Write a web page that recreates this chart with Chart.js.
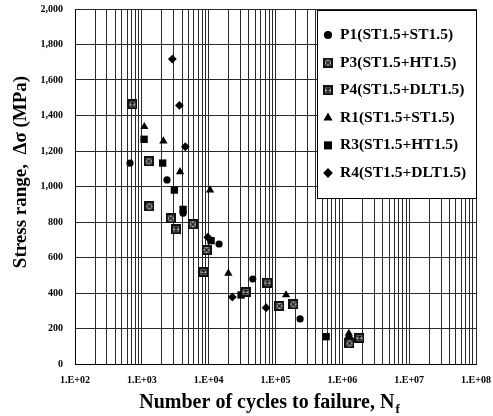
<!DOCTYPE html>
<html>
<head>
<meta charset="utf-8">
<script src="https://cdn.jsdelivr.net/npm/chart.js@4.4.1/dist/chart.umd.min.js"></script>
<style>
  body { margin: 0; background: #fff; }
  #wrap { width: 493px; height: 416px; }
</style>
</head>
<body>
<div id="wrap"><canvas id="chart" width="493" height="416"></canvas></div>
<script>
// cycles to failure / stress range (MPa)
const p1Cycles = [665, 2380, 4150, 14300, 45700, 233500];
const p1Stress = [1132, 1037, 850, 676, 479, 254];

const p3Cycles = [1268, 1295, 2710, 5780, 9300, 114300, 185300, 1280000];
const p3Stress = [1142, 888, 820, 787, 642, 327, 336, 116];

const p4Cycles = [721, 3250, 8330, 35650, 75600, 1800000];
const p4Stress = [1463, 759, 518, 406, 458, 147];

const r1Cycles = [1090, 2100, 3730, 10500, 19700, 144000, 1250000];
const r1Stress = [1337, 1256, 1083, 980, 511, 389, 172];

const r3Cycles = [1080, 2050, 3070, 4140, 10860, 30550, 572000];
const r3Stress = [1266, 1132, 980, 871, 695, 389, 154];

const r4Cycles = [2862, 3650, 4480, 9700, 22630, 72300, 1260000];
const r4Stress = [1718, 1457, 1224, 714, 377, 317, 150];

const seriesLabels = ['P1(ST1.5+ST1.5)', 'P3(ST1.5+HT1.5)', 'P4(ST1.5+DLT1.5)',
                      'R1(ST1.5+ST1.5)', 'R3(ST1.5+HT1.5)', 'R4(ST1.5+DLT1.5)'];

const stressTicks = { min: 0, max: 2000, step: 200 };
const cycleDecades = [2, 3, 4, 5, 6, 7, 8];

const serif = '"Liberation Serif", "Times New Roman", serif';

// boxed cross markers for P3 / P4
function boxMarker(size, star) {
  const c = document.createElement('canvas');
  c.width = size; c.height = size;
  const g = c.getContext('2d');
  g.fillStyle = '#111';
  g.fillRect(0, 0, size, size);
  g.fillStyle = '#b0b0b0';
  g.fillRect(2, 2, size - 4, size - 4);
  g.strokeStyle = '#111';
  g.lineWidth = 1.2;
  g.beginPath();
  g.moveTo(2.5, 2.5); g.lineTo(size - 2.5, size - 2.5);
  g.moveTo(size - 2.5, 2.5); g.lineTo(2.5, size - 2.5);
  if (star) {
    g.moveTo(size / 2, 2); g.lineTo(size / 2, size - 2);
  }
  g.stroke();
  return c;
}
const p3Marker = boxMarker(10, false);
const p4Marker = boxMarker(10, true);

function pts(xs, ys) {
  return xs.map((x, i) => ({ x: x, y: ys[i] }));
}

function ds(label, xs, ys, style, radius) {
  return {
    label: label,
    data: pts(xs, ys),
    pointStyle: style,
    pointRadius: radius,
    pointHoverRadius: radius,
    backgroundColor: '#000',
    borderColor: '#000',
    borderWidth: 0,
    showLine: false
  };
}

const datasets = [
  ds(seriesLabels[0], p1Cycles, p1Stress, 'circle', 3.6),
  ds(seriesLabels[1], p3Cycles, p3Stress, p3Marker, 5),
  ds(seriesLabels[2], p4Cycles, p4Stress, p4Marker, 5),
  ds(seriesLabels[3], r1Cycles, r1Stress, 'triangle', 4.8),
  ds(seriesLabels[4], r3Cycles, r3Stress, 'rect', 5.2),
  ds(seriesLabels[5], r4Cycles, r4Stress, 'rectRot', 4.4)
];

const axisTitles = {
  id: 'axisTitles',
  afterDraw(chart) {
    const ctx = chart.ctx;
    ctx.save();
    ctx.fillStyle = '#000';
    ctx.textBaseline = 'middle';
    // y title
    ctx.font = 'bold 19px ' + serif;
    ctx.textAlign = 'center';
    ctx.translate(21, 172);
    ctx.rotate(-Math.PI / 2);
    ctx.fillText('Stress range,  \u0394\u03c3 (MPa)', 0, 0);
    ctx.restore();

    // x title with subscript f
    ctx.save();
    ctx.fillStyle = '#000';
    ctx.textBaseline = 'middle';
    ctx.textAlign = 'left';
    const main = 'Number of cycles to failure, N';
    ctx.font = 'bold 20px ' + serif;
    const w1 = ctx.measureText(main).width;
    ctx.font = 'bold 13px ' + serif;
    const w2 = ctx.measureText('f').width;
    const x0 = 269 - (w1 + w2) / 2;
    ctx.font = 'bold 20px ' + serif;
    ctx.fillText(main, x0, 403);
    ctx.font = 'bold 13px ' + serif;
    ctx.fillText('f', x0 + w1 + 1, 410);
    ctx.restore();
  }
};

const boxLegend = {
  id: 'boxLegend',
  afterDraw(chart) {
    const ctx = chart.ctx;
    const area = chart.chartArea;
    const w = 160, h = 189;
    const left = area.right - w + 1, top = area.top + 1;
    ctx.save();
    ctx.fillStyle = '#fff';
    ctx.fillRect(left, top, w, h);
    ctx.strokeStyle = '#000';
    ctx.lineWidth = 1;
    ctx.strokeRect(left + 0.5, top + 0.5, w - 1, h - 1);
    ctx.font = 'bold 15.5px ' + serif;
    ctx.textBaseline = 'middle';
    ctx.textAlign = 'left';
    chart.data.datasets.forEach((d, i) => {
      const y = top + 25 + i * 27.6;
      ctx.fillStyle = '#000';
      ctx.strokeStyle = '#000';
      Chart.helpers.drawPoint(ctx, {
        pointStyle: d.pointStyle,
        radius: d.pointRadius + 0.5,
        rotation: 0,
        borderWidth: 0
      }, left + 11, y);
      ctx.fillStyle = '#000';
      ctx.fillText(d.label, left + 23, y);
    });
    ctx.restore();
  }
};

new Chart(document.getElementById('chart'), {
  type: 'scatter',
  data: { datasets: datasets },
  options: {
    responsive: false,
    animation: false,
    layout: { padding: { top: 9, right: 17, left: 0, bottom: 0 } },
    plugins: {
      legend: { display: false },
      tooltip: { enabled: false }
    },
    scales: {
      x: {
        type: 'logarithmic',
        min: Math.pow(10, cycleDecades[0]),
        max: Math.pow(10, cycleDecades[cycleDecades.length - 1]),
        afterBuildTicks(scale) {
          const t = [];
          for (let k = 0; k < cycleDecades.length - 1; k++) {
            for (let m = 1; m < 10; m++) t.push({ value: m * Math.pow(10, cycleDecades[k]) });
          }
          t.push({ value: Math.pow(10, cycleDecades[cycleDecades.length - 1]) });
          scale.ticks = t;
        },
        afterFit(scale) {
          scale.height = 52;
          scale.paddingLeft = 0;
          scale.paddingRight = 0;
        },
        ticks: {
          autoSkip: false,
          maxRotation: 0,
          padding: 10,
          color: '#000',
          font: { family: serif, size: 10, weight: 'bold' },
          callback(value) {
            const e = Math.log10(value);
            if (Math.abs(e - Math.round(e)) > 1e-9) return '';
            const n = Math.round(e);
            return '1.E+' + (n < 10 ? '0' : '') + n;
          }
        },
        grid: { color: '#2a2a2a', lineWidth: 1, drawTicks: false },
        border: { color: '#000', width: 1 }
      },
      y: {
        min: stressTicks.min,
        max: stressTicks.max,
        afterFit(scale) {
          scale.width = 75;
          scale.paddingTop = 0;
          scale.paddingBottom = 0;
        },
        ticks: {
          stepSize: stressTicks.step,
          padding: 12,
          color: '#000',
          font: { family: serif, size: 10, weight: 'bold' },
          callback(value) { return value.toLocaleString('en-US'); }
        },
        grid: { color: '#2a2a2a', lineWidth: 1, drawTicks: false },
        border: { color: '#000', width: 1 }
      }
    }
  },
  plugins: [axisTitles, boxLegend]
});
</script>
</body>
</html>
